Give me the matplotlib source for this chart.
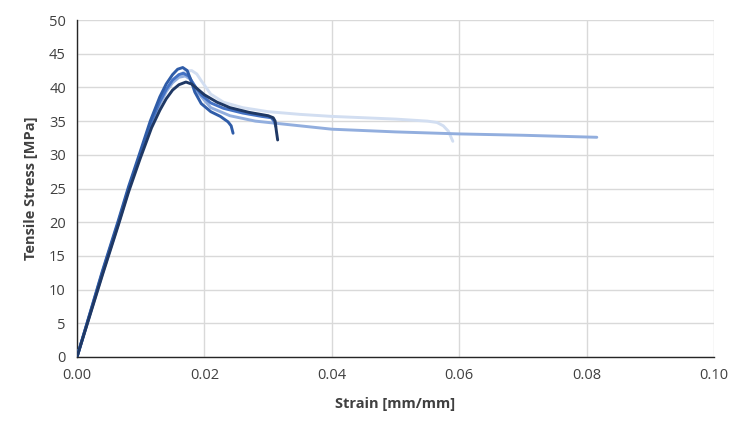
import matplotlib
matplotlib.use("Agg")
import matplotlib.pyplot as plt

# Strain [mm/mm] / Stress [MPa] for each specimen
e_x = [0.0, 0.002, 0.004, 0.0065, 0.0081, 0.0099, 0.0117, 0.013, 0.014, 0.015, 0.016, 0.017, 0.018, 0.0188, 0.0195, 0.021, 0.023, 0.026, 0.030, 0.035, 0.040, 0.050, 0.055, 0.0565, 0.0575, 0.0583, 0.059]
e_y = [0.0, 6.2, 12.4, 19.8, 24.8, 29.8, 34.6, 37.5, 39.4, 40.8, 41.8, 42.4, 42.5, 42.0, 41.0, 39.0, 37.8, 37.0, 36.4, 36.0, 35.7, 35.3, 35.0, 34.8, 34.3, 33.5, 32.0]

d_x = [0.0, 0.002, 0.004, 0.0065, 0.0081, 0.0099, 0.0117, 0.013, 0.014, 0.015, 0.016, 0.017, 0.0178, 0.0185, 0.019, 0.021, 0.024, 0.028, 0.033, 0.040, 0.050, 0.060, 0.070, 0.0816]
d_y = [0.0, 6.2, 12.4, 19.8, 24.8, 29.8, 34.6, 37.5, 39.4, 40.7, 41.5, 41.7, 41.2, 40.2, 39.2, 37.0, 35.8, 35.0, 34.5, 33.8, 33.4, 33.1, 32.9, 32.6]

c_x = [0.0, 0.002, 0.004, 0.0065, 0.0081, 0.0099, 0.0117, 0.013, 0.014, 0.015, 0.016, 0.0167, 0.0175, 0.0185, 0.0195, 0.021, 0.023, 0.026, 0.029, 0.0305, 0.031, 0.0312]
c_y = [0.0, 6.3, 12.6, 20.0, 25.0, 30.0, 35.0, 37.9, 39.7, 41.1, 41.9, 42.1, 41.7, 40.2, 38.9, 37.7, 36.9, 36.2, 35.7, 35.5, 34.9, 34.2]

b_x = [0.0, 0.002, 0.004, 0.0065, 0.0081, 0.0099, 0.0115, 0.013, 0.014, 0.015, 0.0158, 0.0166, 0.0173, 0.0178, 0.0185, 0.0195, 0.021, 0.0225, 0.0237, 0.0242, 0.0245]
b_y = [0.0, 6.4, 12.8, 20.3, 25.3, 30.4, 35.0, 38.6, 40.5, 41.9, 42.7, 42.95, 42.5, 41.3, 39.3, 37.6, 36.4, 35.7, 34.9, 34.3, 33.2]

a_x = [0.0, 0.002, 0.004, 0.0065, 0.0081, 0.0099, 0.0117, 0.013, 0.014, 0.015, 0.016, 0.0171, 0.018, 0.019, 0.020, 0.022, 0.024, 0.027, 0.030, 0.0308, 0.0311, 0.0313, 0.0315]
a_y = [0.0, 6.1, 12.2, 19.6, 24.5, 29.4, 34.0, 36.6, 38.3, 39.6, 40.4, 40.8, 40.5, 39.7, 38.9, 37.8, 37.0, 36.3, 35.8, 35.5, 35.0, 33.5, 32.2]

series = [
    (e_x, e_y, "#D2DEF1"),
    (d_x, d_y, "#92AEDE"),
    (c_x, c_y, "#4472C4"),
    (b_x, b_y, "#2F5CA8"),
    (a_x, a_y, "#1F3864"),
]

x_ticks = [0.00, 0.02, 0.04, 0.06, 0.08, 0.10]
y_ticks = list(range(0, 51, 5))

plt.rcParams['font.family'] = ['Open Sans', 'DejaVu Sans']

fig = plt.figure(figsize=(7.34, 4.26), dpi=100)
ax = fig.add_axes([0.1049, 0.162, 0.8679, 0.791])

for xs, ys, col in series:
    ax.plot(xs, ys, color=col, lw=2.1, solid_capstyle='round', solid_joinstyle='round', zorder=3)

ax.set_xlim(0, 0.10)
ax.set_ylim(0, 50)
ax.set_xticks(x_ticks)
ax.set_xticklabels([f"{v:.2f}" for v in x_ticks])
ax.set_yticks(y_ticks)
ax.grid(True, color="#D9D9D9", lw=1.0, zorder=0)
ax.set_axisbelow(True)
for s in ['top', 'right']:
    ax.spines[s].set_visible(False)
for s in ['left', 'bottom']:
    ax.spines[s].set_color('#262626')
    ax.spines[s].set_linewidth(1.0)
ax.tick_params(length=0, labelsize=10.5, colors='#404040', pad=8)
ax.set_xlabel("Strain [mm/mm]", fontsize=10.5, fontweight='bold', color='#404040', labelpad=10)
ax.set_ylabel("Tensile Stress [MPa]", fontsize=10.5, fontweight='bold', color='#404040', labelpad=8)

fig.savefig("out.png", dpi=100)
